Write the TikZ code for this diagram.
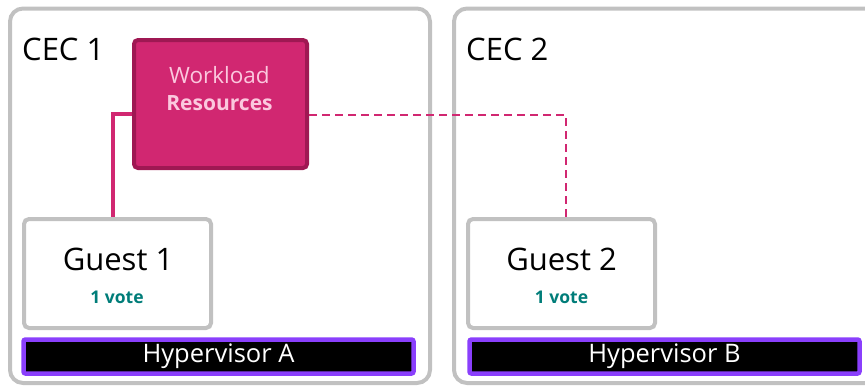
\documentclass[tikz,border=0pt]{standalone}
\usepackage{fontspec}
\setmainfont{Open Sans}
\usetikzlibrary{positioning}

\definecolor{cecgray}{HTML}{C1C1C1}
\definecolor{wlfill}{HTML}{D12771}
\definecolor{wldraw}{HTML}{9F1853}
\definecolor{wltext}{HTML}{FBC8DE}
\definecolor{votecol}{HTML}{007D79}
\definecolor{hvpurple}{HTML}{8A3FFC}

\begin{document}
\begin{tikzpicture}[x=1pt,y=-1pt]
  \tikzstyle{cec}=[draw=cecgray,line width=4pt,rounded corners=13pt,minimum height=374.5pt,inner sep=0]
  \tikzstyle{guest}=[draw=cecgray,fill=white,line width=4pt,rounded corners=5pt,minimum width=187pt,minimum height=109pt,inner sep=0]
  \tikzstyle{hyper}=[draw=hvpurple,fill=black,line width=4.5pt,rounded corners=2pt,minimum width=390pt,minimum height=34pt,inner sep=0,text=white,font=\fontsize{25.5}{29}\selectfont]
  \tikzstyle{workload}=[draw=wldraw,fill=wlfill,line width=4pt,rounded corners=4pt,minimum width=173pt,minimum height=128pt,inner sep=0]
  \tikzstyle{big}=[inner sep=0,font=\fontsize{31}{36}\selectfont]
  \tikzstyle{vote}=[inner sep=0,text=votecol,font=\fontsize{17.5}{20}\bfseries]
  \tikzstyle{wl}=[inner sep=0,text=wltext,font=\fontsize{22.5}{26}\selectfont]
  \tikzstyle{solid link}=[draw=wlfill,line width=4pt]
  \tikzstyle{dashed link}=[draw=wlfill,line width=2pt,dash pattern=on 8pt off 5pt]

  \clip (0,0) rectangle (865,386);

  % the two CECs, the second runs off the right edge
  \node[cec,minimum width=420pt] (cecA) at (220,195.75) {};
  \node[cec,minimum width=470pt] (cecB) at (689,195.75) {};
  \node[big,anchor=base west] (cecAname) at (22,60) {CEC 1};
  \node[big,anchor=base west] (cecBname) at (466,60) {CEC 2};

  % hypervisors
  \node[hyper] (hypA) at (218.5,356.5) {Hypervisor A};
  \node[hyper] (hypB) at (664.5,356.5) {Hypervisor B};

  % guests
  \node[guest] (g1) at (117.5,273.5) {};
  \node[big,anchor=base] (g1name) at (118,270) {Guest 1};
  \node[vote,anchor=base] (g1vote) at (117,303) {1 vote};
  \node[guest] (g2) at (561.5,273.5) {};
  \node[big,anchor=base] (g2name) at (561.5,270) {Guest 2};
  \node[vote,anchor=base] (g2vote) at (561.5,303) {1 vote};

  % workload box
  \node[workload] (wl) at (220.5,104) {};
  \node[wl,anchor=base] (wltop) at (219.5,83) {Workload};
  \node[wl,anchor=base,font=\fontsize{21}{24}\bfseries] (wlbot) at (219.5,110) {Resources};

  % links to the guests
  \draw[solid link] ([yshift=-10pt]wl.west) -| ([xshift=-4.5pt]g1.north);
  \draw[dashed link] ([yshift=-11pt]wl.east) -| ([xshift=4.5pt]g2.north);
\end{tikzpicture}
\end{document}
